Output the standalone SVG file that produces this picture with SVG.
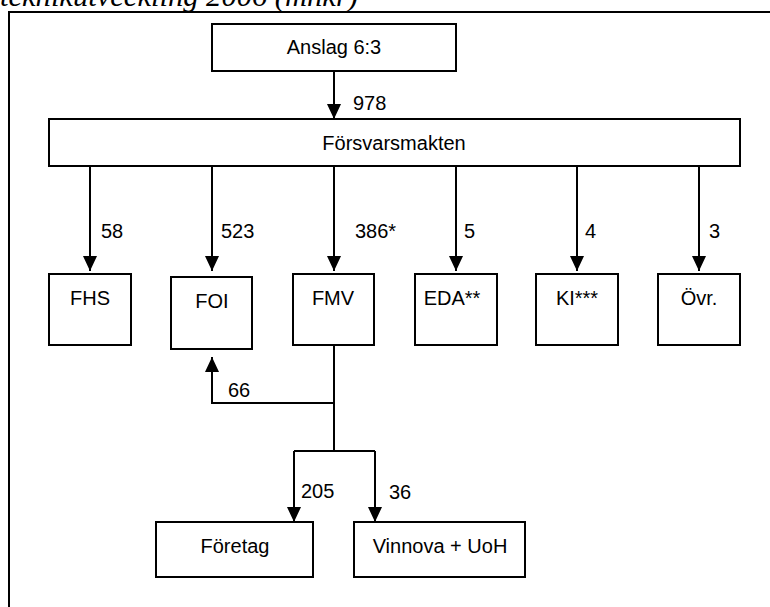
<svg xmlns="http://www.w3.org/2000/svg" width="770" height="607" viewBox="0 0 770 607">
<defs>
<style>
.box{fill:#fff;stroke:#000;stroke-width:2}
.ln{fill:none;stroke:#000;stroke-width:2}
.t{font-family:"Liberation Sans",Arial,sans-serif;font-size:20px;fill:#000}
.c{text-anchor:middle}
.title{font-family:"Liberation Serif","Times New Roman",serif;font-style:italic;font-size:29px;fill:#000}
</style>
<marker id="ah" viewBox="0 0 15 14" refX="15" refY="7" markerWidth="15" markerHeight="14" markerUnits="userSpaceOnUse" orient="auto">
<path d="M0,0 L15,7 L0,14 z" fill="#000"/>
</marker>
</defs>
<rect width="770" height="607" fill="#fff"/>
<text class="title" x="0" y="6" textLength="358" lengthAdjust="spacingAndGlyphs">teknikutveckling 2006 (mnkr)</text>
<path class="ln" d="M9,620 V12 H780"/>

<g id="connectors">
<path class="ln" d="M334,72 V119" marker-end="url(#ah)"/>
<path class="ln" d="M90,166 V271" marker-end="url(#ah)"/>
<path class="ln" d="M212,166 V271" marker-end="url(#ah)"/>
<path class="ln" d="M334,166 V271" marker-end="url(#ah)"/>
<path class="ln" d="M456,166 V271" marker-end="url(#ah)"/>
<path class="ln" d="M577,166 V271" marker-end="url(#ah)"/>
<path class="ln" d="M699,166 V271" marker-end="url(#ah)"/>
<path class="ln" d="M334,345 V403 H212 V357" marker-end="url(#ah)"/>
<path class="ln" d="M334,403 V451"/>
<path class="ln" d="M294,451 H375"/>
<path class="ln" d="M294,451 V522" marker-end="url(#ah)"/>
<path class="ln" d="M375,451 V522" marker-end="url(#ah)"/>
<text class="t" x="353" y="110">978</text>
<text class="t" x="101" y="238">58</text>
<text class="t" x="221" y="238">523</text>
<text class="t" x="355" y="238">386*</text>
<text class="t" x="464" y="238">5</text>
<text class="t" x="585" y="238">4</text>
<text class="t" x="709" y="238">3</text>
<text class="t" x="228" y="397">66</text>
<text class="t" x="301" y="498">205</text>
<text class="t" x="389" y="499">36</text>
</g>

<g id="anslag"><rect class="box" x="212" y="24" width="244" height="47"/><text class="t c" x="334" y="54">Anslag 6:3</text></g>
<g id="forsvarsmakten"><rect class="box" x="49" y="119" width="691" height="47"/><text class="t c" x="394" y="150">Försvarsmakten</text></g>
<g id="fhs"><rect class="box" x="49" y="274" width="82" height="71"/><text class="t c" x="90" y="305">FHS</text></g>
<g id="foi"><rect class="box" x="171" y="277" width="81" height="72"/><text class="t c" x="212" y="308">FOI</text></g>
<g id="fmv"><rect class="box" x="293" y="274" width="81" height="71"/><text class="t c" x="333" y="305">FMV</text></g>
<g id="eda"><rect class="box" x="415" y="274" width="82" height="71"/><text class="t c" x="452" y="305">EDA**</text></g>
<g id="ki"><rect class="box" x="536" y="274" width="82" height="71"/><text class="t c" x="577" y="305">KI***</text></g>
<g id="ovr"><rect class="box" x="658" y="274" width="82" height="71"/><text class="t c" x="699" y="305">Övr.</text></g>
<g id="foretag"><rect class="box" x="156" y="522" width="157" height="55"/><text class="t c" x="235" y="553">Företag</text></g>
<g id="vinnova"><rect class="box" x="354" y="522" width="171" height="55"/><text class="t c" x="440" y="553">Vinnova + UoH</text></g>
</svg>
